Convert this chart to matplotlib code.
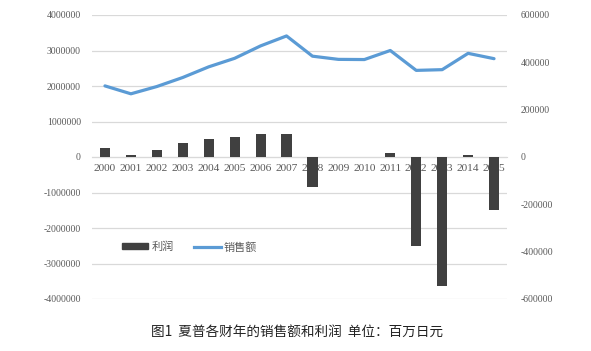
import numpy as np
import matplotlib
matplotlib.use("Agg")
import matplotlib.pyplot as plt
from matplotlib.patches import Rectangle
from matplotlib.lines import Line2D

# Data, unit: million yen
years = ['2000', '2001', '2002', '2003', '2004', '2005', '2006', '2007',
         '2008', '2009', '2010', '2011', '2012', '2013', '2014', '2015']
sales = [2003000, 1780000, 1985000, 2240000, 2540000, 2780000, 3130000, 3410000,
         2840000, 2750000, 2745000, 3000000, 2440000, 2460000, 2920000, 2770000]
profit = [36800, 9700, 30900, 57900, 74800, 85800, 98500, 98500,
          -128000, 0, 0, 18000, -377000, -547000, 10000, -222800]

left_ticks = [-4000000, -3000000, -2000000, -1000000, 0, 1000000, 2000000, 3000000, 4000000]
right_ticks = [-600000, -400000, -200000, 0, 200000, 400000, 600000]

plt.rcParams['font.family'] = ['Noto Sans CJK SC', 'DejaVu Sans']
gray_txt = '#595959'
grid_c = '#D9D9D9'
num_font = dict(family='Liberation Serif', color=gray_txt)

fig = plt.figure(figsize=(5.91, 3.51), dpi=100)
ax = fig.add_axes([92/591, 1-299/351, 415/591, 284/351])
ax2 = ax.twinx()

# x axis sits on the zero line
for s in ['top', 'right', 'left']:
    ax.spines[s].set_visible(False)
ax.spines['bottom'].set_position(('data', 0))
ax.spines['bottom'].set_color(grid_c)

x = np.arange(len(years))

# sales line on the left axis
ax.plot(x, sales, color='#5B9BD5', lw=2.3, solid_capstyle='round', zorder=3)
ax.set_ylim(-4000000, 4000000)
ax.set_yticks(left_ticks)
ax.set_yticklabels([str(t) for t in left_ticks], fontsize=7, **num_font)
ax.set_xlim(-0.5, len(years)-0.5)
ax.set_xticks(x)
ax.set_xticklabels(years, fontsize=8.2, **num_font)
ax.grid(axis='y', color=grid_c, lw=0.9)
ax.set_axisbelow(True)
ax.tick_params(length=0)
ax.tick_params(axis='x', pad=5)
ax.tick_params(axis='y', pad=8)

# profit bars on the right axis
ax2.bar(x, profit, width=0.39, color='#404040', zorder=3)
ax2.set_ylim(-600000, 600000)
ax2.set_yticks(right_ticks)
ax2.set_yticklabels([str(t) for t in right_ticks], fontsize=7, **num_font)
for s in ax2.spines.values():
    s.set_visible(False)
ax2.tick_params(length=0, pad=10)

handles = [Rectangle((0, 0), 1, 1, color='#404040'),
           Line2D([0], [0], color='#5B9BD5', lw=2.3)]
leg = ax2.legend(handles, ['利润', '销售额'], loc='center', bbox_to_anchor=(0.235, 0.183),
                 ncol=2, frameon=False, fontsize=8, handlelength=2.4, handleheight=0.45,
                 columnspacing=1.8, handletextpad=0.3)
for t in leg.get_texts():
    t.set_color(gray_txt)

fig.text(0.503, 1-332/351, '图1  夏普各财年的销售额和利润  单位：百万日元',
         ha='center', va='center', fontsize=9.8, color='#222222')

fig.savefig('out.png', dpi=100)
